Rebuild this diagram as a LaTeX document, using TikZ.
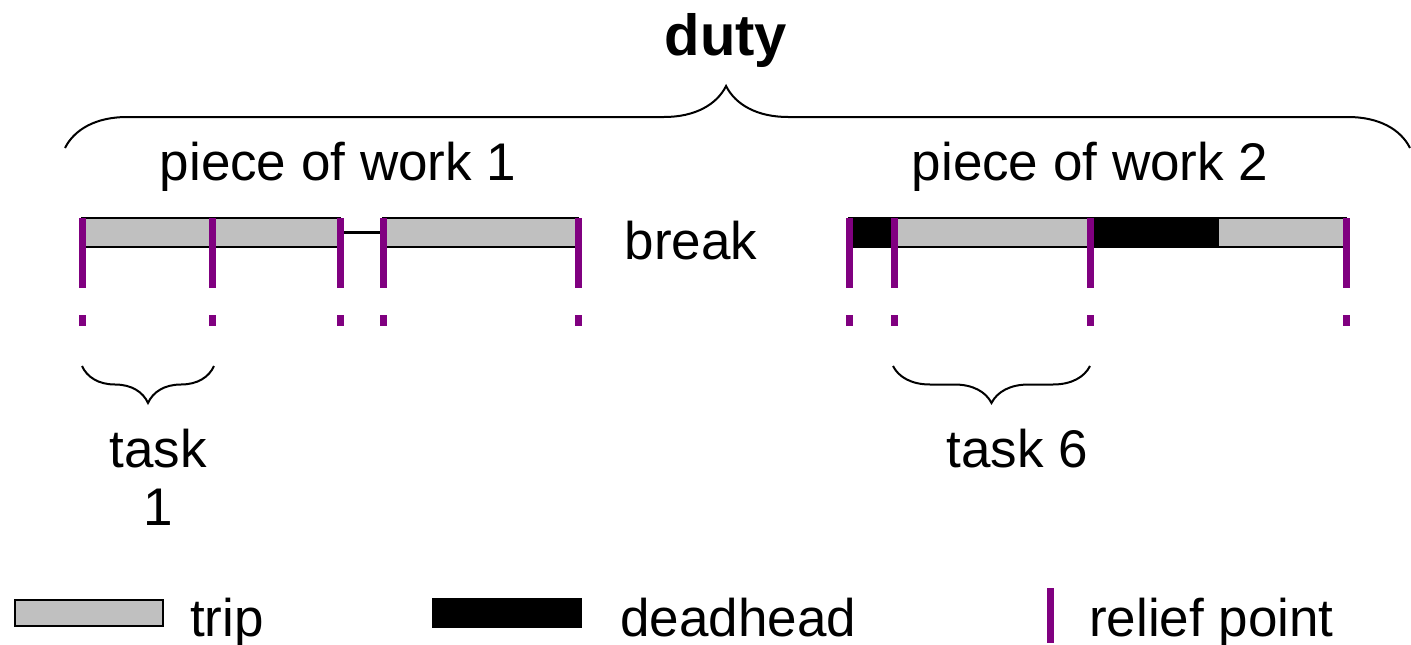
\documentclass[tikz,border=0pt]{standalone}
\usepackage{fontspec}
\setmainfont{Liberation Sans}
\usepackage{xcolor}
\definecolor{relief}{RGB}{128,0,128}
\definecolor{tripgray}{RGB}{192,192,192}
\usetikzlibrary{decorations.pathreplacing,positioning}

\tikzset{
  trip/.style={fill=tripgray,draw=black,line width=2pt},
  deadhead/.style={fill=black,draw=black,line width=2pt},
  reliefline/.style={relief,line width=7pt,dash pattern=on 70pt off 27pt on 11pt off 200pt},
  curly/.style={decorate,decoration={brace,amplitude=#1},line width=2pt},
  lbl/.style={font=\fontsize{53}{58}\selectfont,inner sep=0pt},
}

\begin{document}
\begin{tikzpicture}[x=1pt,y=-1pt]
  \useasboundingbox (0,0) rectangle (1411,645);

  % whole duty
  \node[lbl,font=\fontsize{58}{64}\selectfont\bfseries,anchor=base] (duty) at (726,55) {duty};
  \coordinate (dutyL) at (65,148);
  \coordinate (dutyR) at (1410,148);
  \draw[curly=62,decoration={aspect=0.4915}] (dutyL) -- (dutyR);

  \node[lbl,anchor=base] (pw1) at (338,180) {piece of work 1};
  \node[lbl,anchor=base] (pw2) at (1090,180) {piece of work 2};

  % piece of work 1: three trips and a break
  \draw[trip] (82,218) rectangle (212,247);
  \draw[trip] (212,218) rectangle (340,247);
  \draw[trip] (383,218) rectangle (578,247);
  \coordinate (brkL) at (340,232);
  \coordinate (brkR) at (383,232);
  \draw[line width=3pt] (brkL) -- (brkR);
  \node[lbl,anchor=base] (brk) at (691,259) {break};

  % piece of work 2: deadheads and trips
  \draw[deadhead] (849,218) rectangle (894,247);
  \draw[trip] (894,218) rectangle (1090,247);
  \draw[deadhead] (1090,218) rectangle (1218,247);
  \draw[trip] (1218,218) rectangle (1346,247);

  % relief points
  \foreach \x in {82,212,340,383,578,849,894,1090,1346}
    \draw[reliefline] (\x,218) -- (\x,326);

  % tasks
  \coordinate (t1L) at (82,366);
  \coordinate (t1R) at (214,366);
  \draw[curly=37] (t1R) -- (t1L);
  \node[lbl,align=center] (task1) at (158,477) {task\\1};
  \coordinate (t6L) at (893,366);
  \coordinate (t6R) at (1090,366);
  \draw[curly=37] (t6R) -- (t6L);
  \node[lbl,anchor=base] (task6) at (1017,467) {task 6};

  % legend
  \draw[trip] (15,600) rectangle (163,626);
  \node[lbl,anchor=base west] (lgtrip) at (190,636) {trip};
  \draw[deadhead] (433,599) rectangle (581,627);
  \node[lbl,anchor=base west] (lgdh) at (620,636) {deadhead};
  \draw[relief,line width=7pt] (1050,588) -- (1050,643);
  \node[lbl,anchor=base west] (lgrp) at (1089,636) {relief point};
\end{tikzpicture}
\end{document}
